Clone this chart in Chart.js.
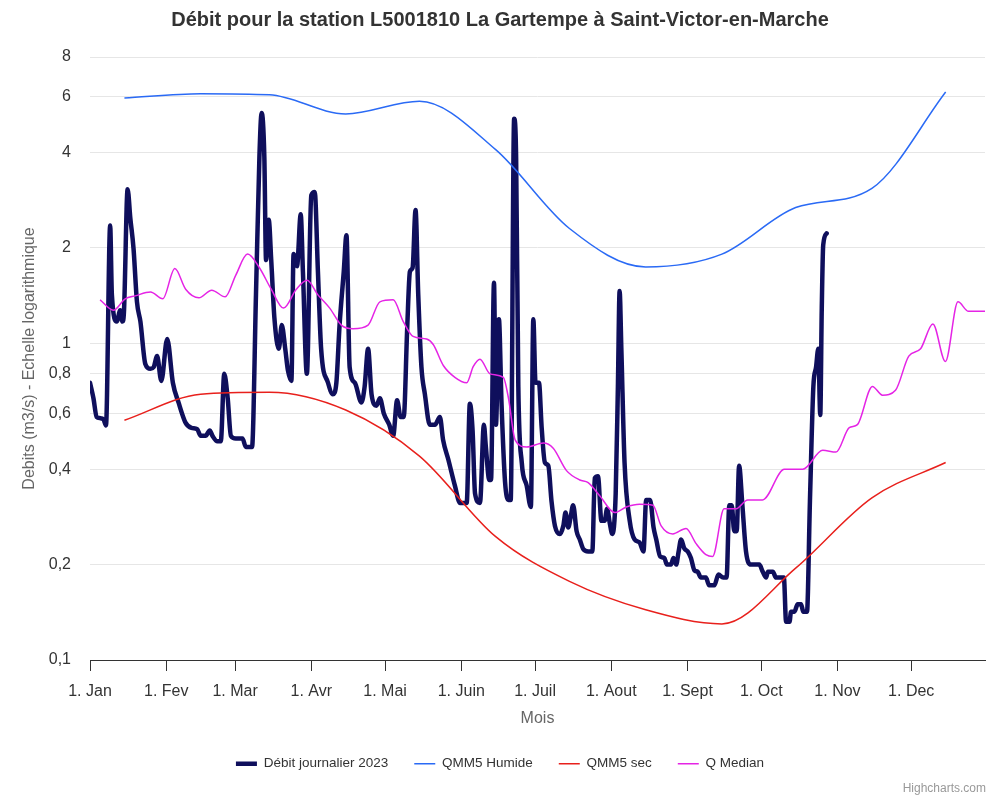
<!DOCTYPE html>
<html><head><meta charset="utf-8">
<script src="https://cdn.jsdelivr.net/npm/chart.js@4/dist/chart.umd.min.js"></script>
<style>html,body{margin:0;padding:0;background:#fff}</style>
</head><body>
<canvas id="c" width="1000" height="800" style="display:block;width:1000px;height:800px"></canvas>
<script>
// ---- Data ----
const monthStartDays = [0,31,59,90,120,151,181,212,243,273,304,334];
const monthLabels = ['1. Jan','1. Fev','1. Mar','1. Avr','1. Mai','1. Juin','1. Juil','1. Aout','1. Sept','1. Oct','1. Nov','1. Dec'];
const yTickValues = [0.1,0.2,0.4,0.6,0.8,1,2,4,6,8];

const dailyDays = [0,1.4,2.7,4,5.5,6.5,8.2,8.9,10.9,12.3,13.2,13.8,15.3,16.4,17.7,19.1,20.5,22.5,24.6,25.9,27.3,29,31.4,33.7,36,38.9,41.3,43.6,45,47,48.7,49.8,51.8,53.2,54.6,56,57.3,59.3,62,63.4,65.9,67.5,68.9,69.8,70.9,71.6,72.7,73.7,75,76.8,78,79.4,80.5,81.9,82.8,84.2,85.7,86.6,88.2,90,91.4,92.7,94,96.8,98.8,100.2,101.5,103.2,104.3,105.6,107.7,110.4,111.7,113.1,114.5,116.5,117.9,119.5,121.7,123.3,124.9,126.3,127.6,129,130.1,131.2,132.4,133.5,134.8,136.2,138.2,140.3,142.3,143.6,145.7,148.4,150.5,153.2,154.5,155.6,156.6,158.6,160.2,161,162.4,163.1,164.3,165.1,166.3,167.4,168.8,170.2,171.1,172.5,173.3,174.2,175.6,177.6,179.3,180.3,181.2,182.6,183.7,185,186.4,187.7,189.1,191.1,192.5,193.4,194.5,195.4,196.5,197.9,199.2,200.6,202.6,204.3,205.3,206.6,208,209.3,210.3,211.4,212.4,213.8,214.7,215.4,216.1,217.4,219.5,221.5,223.5,225.1,226.2,227.8,229.2,230.3,231.9,233.6,234.6,236.3,237.3,238.4,239.4,240.4,241.7,243.1,244.4,245.8,247.1,248.5,250.5,251.8,253.9,255.6,257.5,258.9,260,261,262,263,264,265.3,266.8,268.8,272.2,273.6,275,275.7,277.7,279,282.2,283.1,284.5,285.1,286.5,287.8,289.2,290.1,291.6,292.8,294.2,295.3,296.2,297,297.6,298.2,299.6];
const dailyFlow = [0.75,0.67,0.585,0.58,0.575,0.55,2.35,1.42,1.17,1.27,1.17,1.25,3.06,2.48,1.99,1.35,1.17,0.86,0.83,0.84,0.91,0.76,1.03,0.75,0.65,0.56,0.54,0.535,0.51,0.51,0.53,0.51,0.49,0.49,0.80,0.67,0.51,0.50,0.50,0.47,0.47,1.42,3.87,5.33,3.87,1.83,2.45,1.83,1.2,0.96,1.14,0.96,0.82,0.76,1.91,1.75,2.55,1.68,0.8,2.93,3.0,1.68,0.96,0.75,0.69,0.75,1.14,1.68,2.19,0.84,0.75,0.65,0.73,0.96,0.69,0.635,0.67,0.60,0.553,0.51,0.66,0.585,0.585,1.11,1.68,1.73,2.63,1.42,0.84,0.69,0.553,0.553,0.585,0.495,0.43,0.355,0.313,0.313,0.644,0.53,0.335,0.313,0.553,0.47,0.37,0.37,1.55,0.553,1.19,0.635,0.365,0.32,0.32,5.11,3.87,0.73,0.42,0.355,0.304,1.19,0.75,0.75,0.54,0.42,0.41,0.317,0.265,0.25,0.265,0.292,0.262,0.28,0.308,0.255,0.24,0.224,0.22,0.22,0.375,0.38,0.275,0.275,0.30,0.27,0.25,0.335,0.73,1.46,0.96,0.42,0.275,0.24,0.235,0.22,0.32,0.32,0.262,0.24,0.212,0.21,0.2,0.2,0.21,0.2,0.22,0.24,0.225,0.22,0.21,0.192,0.19,0.182,0.182,0.172,0.172,0.186,0.182,0.182,0.308,0.308,0.255,0.255,0.41,0.31,0.22,0.2,0.2,0.19,0.182,0.19,0.19,0.182,0.182,0.132,0.132,0.142,0.142,0.15,0.15,0.142,0.142,0.317,0.73,0.84,0.96,0.593,1.27,2.04,2.22];

const monthlyDays = [14,45,73,104,134,165,195,226,257,287,318,348];
const qmm5Humide = [5.94,6.13,6.08,5.29,5.8,4.08,2.3,1.74,1.91,2.68,3.08,6.2];
const qmm5Sec = [0.571,0.69,0.70,0.615,0.44,0.245,0.177,0.144,0.13,0.195,0.325,0.42];

const medianDays = [4.1,9.5,14.3,18.4,24.6,29.6,34.5,38.9,44.3,49.5,55,59.3,64.1,68.9,73.7,78.7,83.9,88.3,92.7,97.5,102.2,107,113.1,117.9,123.3,127.4,131.4,136.9,139.6,143.7,148.4,153.2,155.9,158.6,162.7,168.1,170.2,172.9,177.6,184.4,188.4,193.8,199.2,202.6,207.3,213.4,218.1,223.5,228.9,232.3,237,242.4,246.5,250.5,253.2,257.9,262.6,267.5,273.5,282.4,289.9,298,303.4,308.8,312.1,318.2,322.3,327.6,333,337.8,342.8,347.9,353,357.3,364];
const medianFlow = [1.37,1.27,1.38,1.41,1.45,1.38,1.72,1.48,1.39,1.47,1.40,1.64,1.91,1.73,1.48,1.29,1.48,1.58,1.42,1.29,1.14,1.11,1.14,1.35,1.37,1.17,1.05,1.03,0.99,0.85,0.78,0.75,0.844,0.89,0.80,0.78,0.67,0.495,0.47,0.484,0.466,0.396,0.37,0.363,0.33,0.292,0.304,0.31,0.308,0.265,0.25,0.26,0.233,0.215,0.212,0.30,0.30,0.32,0.32,0.40,0.40,0.459,0.453,0.541,0.553,0.73,0.685,0.71,0.91,0.96,1.15,0.875,1.35,1.26,1.26];

const pts = (xs, ys) => xs.map((x, i) => ({x: x, y: ys[i]}));

Chart.defaults.font.family = 'Arial, "Liberation Sans", Helvetica, sans-serif';

const credits = {
  id: 'credits',
  afterDraw(chart) {
    const ctx = chart.ctx;
    ctx.save();
    ctx.font = '12px Arial, "Liberation Sans", sans-serif';
    ctx.fillStyle = '#999999';
    ctx.textAlign = 'right';
    ctx.textBaseline = 'alphabetic';
    ctx.fillText('Highcharts.com', 986, 792);
    ctx.restore();
  }
};

new Chart(document.getElementById('c'), {
  type: 'line',
  data: {
    datasets: [
      {label: 'Débit journalier 2023', data: pts(dailyDays, dailyFlow), borderColor: '#0f0f5c', backgroundColor: '#0f0f5c', borderWidth: 4.5, pointRadius: 0, pointStyle: 'line', cubicInterpolationMode: 'monotone', borderJoinStyle: 'round', borderCapStyle: 'round', order: 4},
      {label: 'QMM5 Humide', data: pts(monthlyDays, qmm5Humide), borderColor: '#2a6af5', backgroundColor: '#2a6af5', borderWidth: 1.5, pointRadius: 0, pointStyle: 'line', cubicInterpolationMode: 'monotone', order: 3},
      {label: 'QMM5 sec', data: pts(monthlyDays, qmm5Sec), borderColor: '#e8201c', backgroundColor: '#e8201c', borderWidth: 1.5, pointRadius: 0, pointStyle: 'line', cubicInterpolationMode: 'monotone', order: 2},
      {label: 'Q Median', data: pts(medianDays, medianFlow), borderColor: '#e524e5', backgroundColor: '#e524e5', borderWidth: 1.5, pointRadius: 0, pointStyle: 'line', cubicInterpolationMode: 'monotone', order: 1}
    ]
  },
  options: {
    responsive: false,
    animation: false,
    devicePixelRatio: 1,
    layout: {padding: {left: 15, right: 15, top: 0, bottom: 19.5}},
    plugins: {
      title: {display: true, text: 'Débit pour la station L5001810 La Gartempe à Saint-Victor-en-Marche', font: {size: 20, weight: 'bold'}, color: '#333333', padding: {top: 8, bottom: 25}},
      legend: {position: 'bottom', labels: {usePointStyle: true, pointStyleWidth: 21, font: {size: 13.5}, color: '#333333', padding: 26, sort: (a, b) => a.datasetIndex - b.datasetIndex}},
      tooltip: {enabled: false}
    },
    scales: {
      x: {
        type: 'linear', min: 0, max: 364,
        afterBuildTicks: s => { s.ticks = monthStartDays.map(v => ({value: v})); },
        afterFit: s => { s.height = 71; },
        ticks: {callback: (v, i) => monthLabels[i], font: {size: 16}, color: '#333333', padding: 11, maxRotation: 0, autoSkip: false},
        grid: {display: true, drawOnChartArea: false, drawTicks: true, tickLength: 11, color: '#333333', tickColor: '#333333'},
        border: {display: true, color: '#333333', width: 1},
        title: {display: true, text: 'Mois', font: {size: 16}, color: '#666666', padding: {top: 0, bottom: 2.4}}
      },
      y: {
        type: 'logarithmic', min: 0.1, max: 8,
        afterBuildTicks: s => { s.ticks = yTickValues.map(v => ({value: v})); },
        afterFit: s => { s.width = 75; },
        ticks: {callback: v => String(v).replace('.', ','), font: {size: 16}, color: '#333333', padding: 19, autoSkip: false},
        grid: {color: '#e6e6e6', drawTicks: false, lineWidth: 1},
        border: {display: false},
        title: {display: true, text: 'Debits (m3/s) - Echelle logarithmique', font: {size: 16}, color: '#666666', padding: {top: 5, bottom: 0}}
      }
    }
  },
  plugins: [credits]
});
</script>
</body></html>
